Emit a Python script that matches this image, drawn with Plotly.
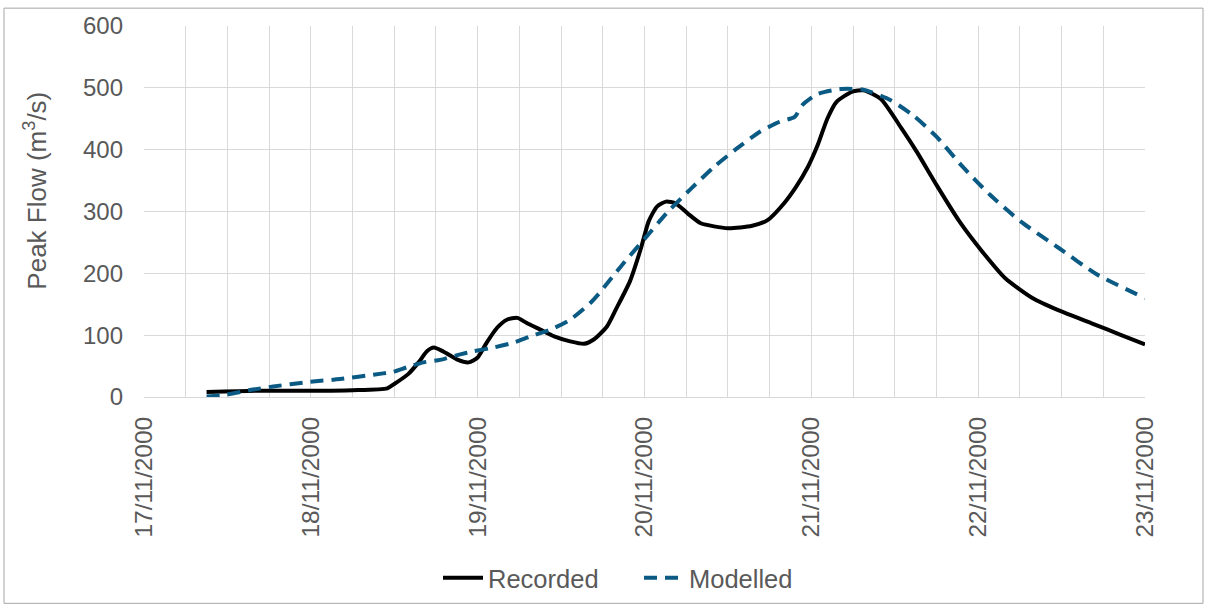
import pandas as pd
import plotly.graph_objects as go

# hours after 17/11/2000 00:00
rec_hours = [9, 16, 24, 30, 35, 36, 38, 39.5, 40.7, 41.7, 43, 45, 46.7, 48, 49.3, 50.8,
             52.2, 53.7, 55, 57, 59, 61.3, 63.3, 64.7, 66.6, 67.9, 69.9, 71.5, 72.6,
             73.8, 75.1, 76.5, 78.2, 80.1, 84, 87.5, 89.7, 91.9, 93.8, 95.5, 96.9, 98.3,
             99.6, 101.9, 103.5, 106, 109, 111.2, 114, 117.3, 120.6, 123.9, 127.8, 131.6,
             136.6, 140.4, 144]
rec_flow = [8, 10, 10, 11, 14, 21, 37, 56, 74, 80, 74, 61, 56, 64, 88, 112,
            125, 128, 120, 109, 98, 90, 86, 93, 114, 142, 187, 241, 284,
            308, 316, 313, 297, 281, 273, 277, 286, 311, 340, 372, 407, 450,
            477, 494, 496, 482, 434, 396, 343, 284, 235, 192, 160, 140,
            118, 101, 85]

mod_hours = [9, 11.4, 15.7, 18.6, 23.4, 28.2, 33, 35.9, 37.8, 40.2, 42.6, 45.5, 47.4,
             50.3, 53.2, 55.6, 58.5, 61.3, 64.2, 65.5, 68.8, 72.1, 75.4, 78.7, 82, 85.3,
             88.6, 91.4, 93.6, 94.7, 96.9, 100.2, 103.5, 107.4, 110.7, 114, 117.8, 121.7,
             126.1, 131.6, 137.1, 144]
mod_flow = [1, 3, 12, 17, 24, 29, 36, 41, 48, 56, 60, 69, 74,
            80, 88, 98, 109, 125, 152, 168, 214, 257, 300, 337, 372, 402,
            429, 445, 453, 472, 490, 498, 497, 480, 455, 421, 372, 327,
            284, 241, 198, 160]

days = ["2000-11-17", "2000-11-18", "2000-11-19", "2000-11-20",
        "2000-11-21", "2000-11-22", "2000-11-23"]
day_labels = ["17/11/2000", "18/11/2000", "19/11/2000", "20/11/2000",
              "21/11/2000", "22/11/2000", "23/11/2000"]

start = pd.Timestamp(days[0])
rec_x = start + pd.to_timedelta(rec_hours, unit="h")
mod_x = start + pd.to_timedelta(mod_hours, unit="h")

grey = "#595959"
grid = "#d9d9d9"

fig = go.Figure()
fig.add_trace(go.Scatter(
    x=rec_x, y=rec_flow, name="Recorded", mode="lines",
    line=dict(color="black", width=4, shape="spline", smoothing=0.6),
))
fig.add_trace(go.Scatter(
    x=mod_x, y=mod_flow, name="Modelled", mode="lines",
    line=dict(color="#0b5a84", width=4, dash="13px,8px", shape="spline", smoothing=0.6),
))

fig.update_layout(
    width=1208, height=610,
    margin=dict(l=144, r=63, t=23, b=213),
    paper_bgcolor="white", plot_bgcolor="white",
    font=dict(family="Liberation Sans, Arial", color=grey, size=24),
    legend=dict(orientation="h", xref="container", yref="container",
                x=438 / 1208, xanchor="left", y=0.052, yanchor="middle",
                entrywidth=146, entrywidthmode="pixels",
                font=dict(size=25.5, color=grey), itemwidth=40),
    shapes=[dict(type="rect", xref="paper", yref="paper",
                 x0=-140 / 1001, x1=1 + 58 / 1001, y0=-208 / 374, y1=1 + 18 / 374,
                 line=dict(color="#a6a6a6", width=1), layer="below")],
    annotations=[dict(text="Peak Flow (m<sup>3</sup>/s)", textangle=-90,
                      xref="paper", yref="paper", x=-108 / 1001, y=208 / 374,
                      xanchor="center", yanchor="middle", showarrow=False,
                      font=dict(size=26, color=grey))],
)
fig.update_xaxes(
    range=[days[0], days[-1]],
    tickvals=days, ticktext=day_labels, tickangle=-90,
    tickfont=dict(size=24.5, color=grey),
    showgrid=True, gridcolor=grid, gridwidth=1,
    minor=dict(dtick=6 * 3600 * 1000, showgrid=True, gridcolor=grid, gridwidth=1),
    showline=True, linecolor=grid, linewidth=1,
    ticks="", ticklabelstandoff=9,
)
fig.update_yaxes(
    range=[0, 600], dtick=100,
    tickfont=dict(size=24, color=grey),
    showgrid=True, gridcolor=grid, gridwidth=1,
    zeroline=False, showline=False, ticks="", ticklabelstandoff=20,
)

fig.write_html("out.html", config={"displayModeBar": False},
               post_script="document.body.style.margin = '0';")
